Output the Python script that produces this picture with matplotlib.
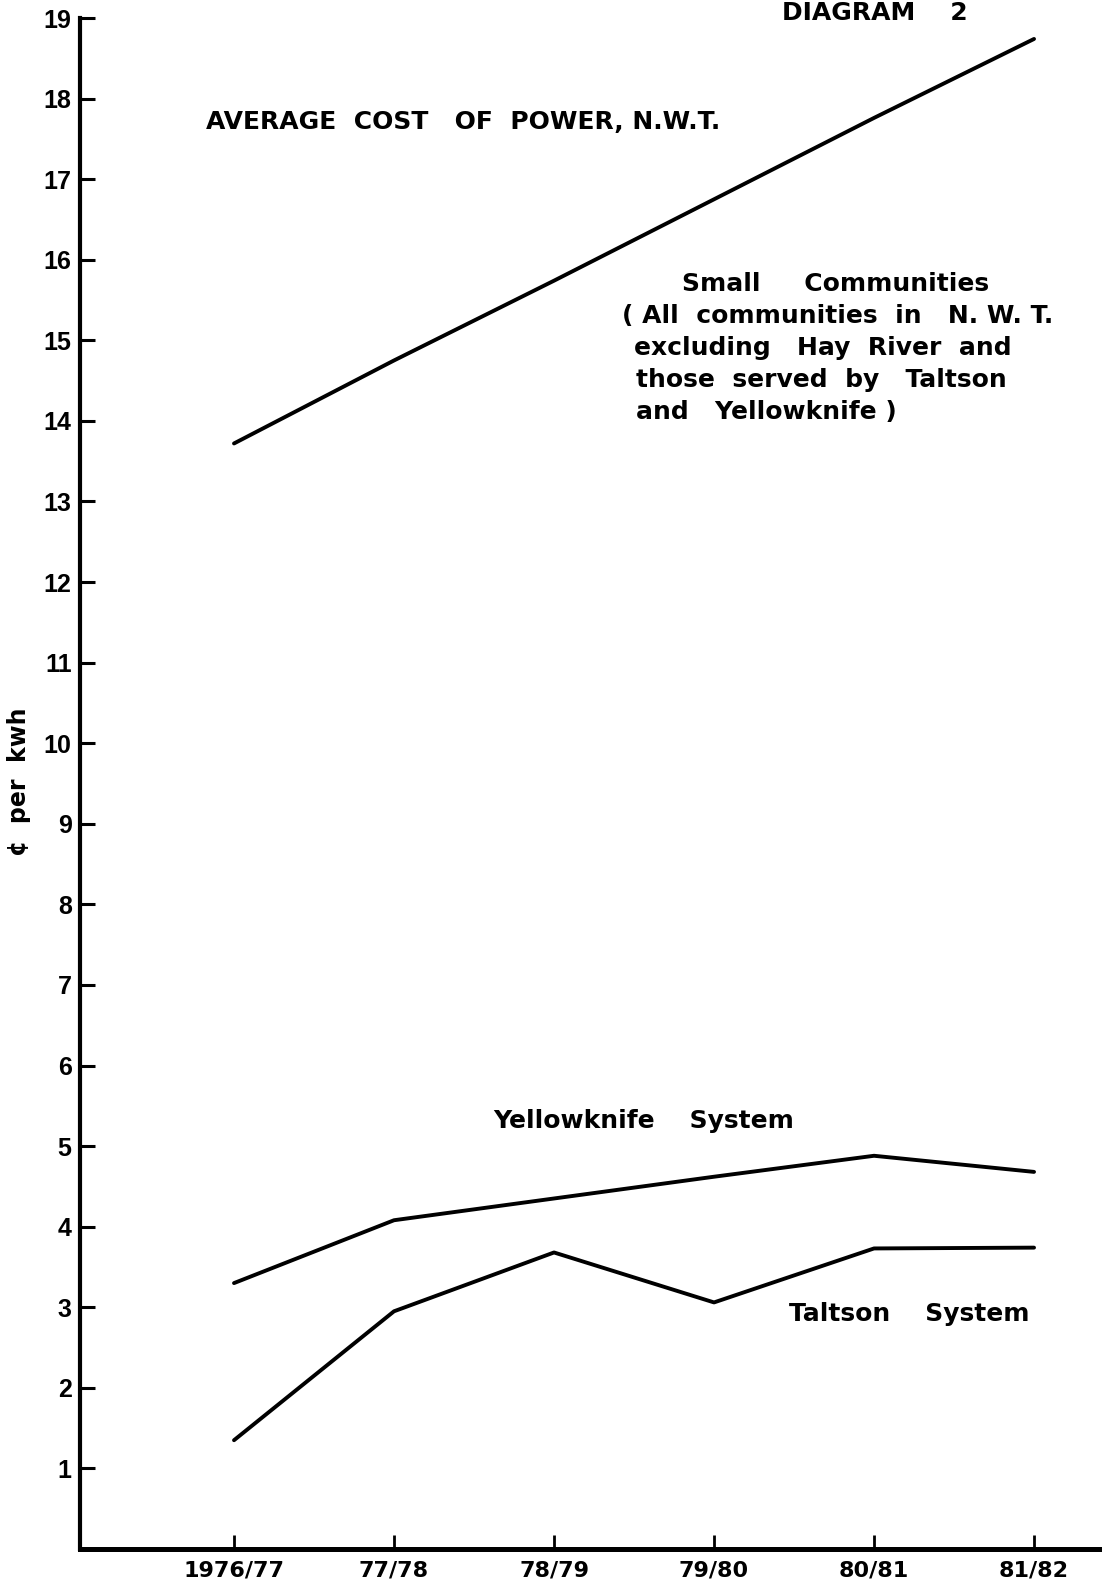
import matplotlib
matplotlib.use('Agg')
import matplotlib.pyplot as plt

years = ['1976/77', '77/78', '78/79', '79/80', '80/81', '81/82']
small_communities = [13.72, 14.75, 15.74, 16.75, 17.76, 18.74]
yellowknife = [3.30, 4.08, 4.35, 4.62, 4.88, 4.68]
taltson = [1.35, 2.95, 3.68, 3.06, 3.73, 3.74]
y_ticks = list(range(1, 20))

W, H = 1112, 1588
fig = plt.figure(figsize=(W / 100, H / 100), dpi=100)
ax = fig.add_axes([80 / W, 1 - 1549 / H, 1019 / W, 1531 / H])

x = list(range(len(years)))
for series in (small_communities, yellowknife, taltson):
    ax.plot(x, series, color='black', lw=2.8, solid_capstyle='round')

ax.set_xlim(-0.9625, 5.406)
ax.set_ylim(0, 19)
ax.set_xticks(x)
ax.set_xticklabels(years, fontsize=16, fontweight='bold', family='DejaVu Sans')
ax.set_yticks(y_ticks)
ax.set_yticklabels([str(v) for v in y_ticks], fontsize=18, fontweight='bold',
                   family='Liberation Sans')
ax.tick_params(axis='x', direction='in', length=10, width=2, pad=8)
ax.tick_params(axis='y', direction='in', length=11, width=2.2, pad=6)
ax.spines['top'].set_visible(False)
ax.spines['right'].set_visible(False)
ax.spines['left'].set_linewidth(3)
ax.spines['bottom'].set_linewidth(3.6)


def px_text(px, py, s, **kw):
    kw.setdefault('fontsize', 18)
    kw.setdefault('fontweight', 'bold')
    kw.setdefault('family', 'DejaVu Sans')
    fig.text(px / W, 1 - py / H, s, **kw)


# the scan cuts this heading at the top edge; keep it just inside the page
px_text(875, 20, 'DIAGRAM    2', ha='center', va='baseline')
px_text(463, 122, 'AVERAGE  COST   OF  POWER, N.W.T.', ha='center', va='center')

px_text(836, 284, 'Small     Communities', ha='center', va='center')
px_text(838, 316, '( All  communities  in   N. W. T.', ha='center', va='center')
px_text(634, 348, 'excluding   Hay  River  and', ha='left', va='center')
px_text(636, 380, 'those  served  by   Taltson', ha='left', va='center')
px_text(636, 412, 'and   Yellowknife )', ha='left', va='center')

px_text(644, 1121, 'Yellowknife    System', ha='center', va='center')
px_text(909, 1314, 'Taltson    System', ha='center', va='center')

px_text(19, 782, '¢  per  kwh', ha='center', va='center', rotation=90, fontsize=17)

fig.savefig('out.png', dpi=100)
